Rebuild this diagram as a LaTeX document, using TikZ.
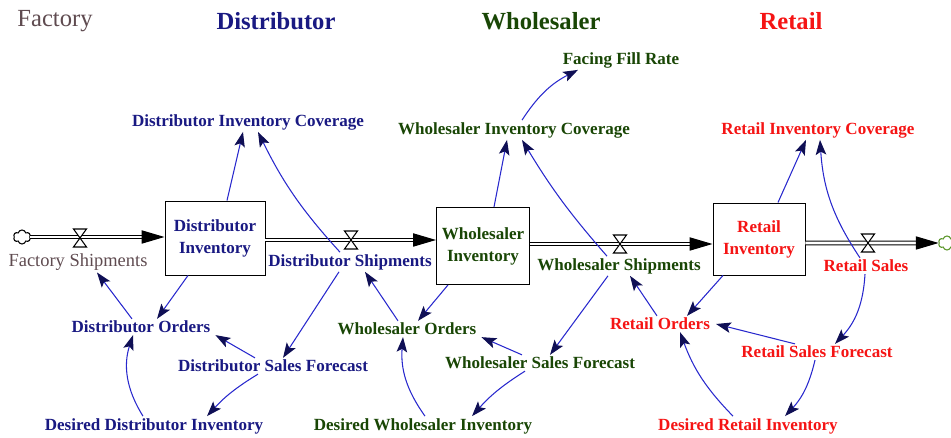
\documentclass[tikz,border=0pt]{standalone}
\usepackage{fontspec}
\setmainfont{Liberation Serif}
\usetikzlibrary{arrows.meta, shapes.symbols, calc}
\definecolor{distnavy}{RGB}{25,25,130}
\definecolor{wholgreen}{RGB}{25,70,5}
\definecolor{retred}{RGB}{245,20,20}
\definecolor{factgray}{RGB}{95,75,80}
\definecolor{linkblue}{RGB}{40,40,205}
\definecolor{headnavy}{RGB}{15,15,85}
\definecolor{sinkgreen}{RGB}{90,150,40}
\begin{document}
\begin{tikzpicture}[
  x=0.02cm, y=-0.02cm,
  font=\fontsize{9.7}{12.5}\selectfont\bfseries,
  every node/.style={inner sep=1pt},
  title/.style={font=\fontsize{14}{16}\selectfont\bfseries},
  stock/.style={draw, line width=0.55pt, fill=white, align=center, minimum width=2cm, minimum height=1.48cm},
  puff/.style={cloud, cloud puffs=6, aspect=1.2, draw, fill=white, line width=0.6pt, minimum width=0.34cm, minimum height=0.28cm, inner sep=0pt},
  pipe/.style={double=white, double distance=1.5pt, line width=0.65pt, -{Triangle[length=13pt,width=7.5pt]}},
  valve/.style={draw, fill=white, line width=0.6pt},
  link/.style={draw=linkblue, line width=0.6pt, -{Stealth[length=8.5pt,width=6pt,inset=1.8pt,color=headnavy]}}
]
\useasboundingbox (0,0) rectangle (951,438);
\node[text=factgray, font=\fontsize{14}{16}\selectfont] (factT) at (55,21) {Factory};
\node[title, text=distnavy] (distT) at (276,21) {Distributor};
\node[title, text=wholgreen] (wholT) at (541,21) {Wholesaler};
\node[title, text=retred] (retT) at (791,21) {Retail};
\node[puff] (srcL) at (22,237) {};
\node[puff, draw=sinkgreen] (sinkR) at (947,243) {};
\node[stock, text=distnavy] (dinv) at (215,238) {Distributor\\Inventory};
\node[stock, text=wholgreen, minimum width=1.86cm, minimum height=1.54cm] (winv) at (483,246) {Wholesaler\\Inventory};
\node[stock, text=retred, minimum width=1.84cm, minimum height=1.44cm] (rinv) at (759,239) {Retail\\Inventory};
\coordinate (fv) at (80,238);
\coordinate (dv) at (351,240);
\coordinate (wv) at (620,244);
\coordinate (rv) at (868,243);
\draw[pipe] (srcL.east) -- (dinv.west |- srcL.east);
\draw[pipe] (dinv.east |- dv) -- (winv.west |- dv);
\draw[pipe] (winv.east |- wv) -- (rinv.west |- wv);
\draw[pipe] (rinv.east |- rv) -- (sinkR.west);
\foreach \v in {fv,dv,wv,rv}
  \draw[valve] ($(\v)+(-6.5,-9)$) -- ($(\v)+(6.5,-9)$) -- ($(\v)+(-6.5,9)$) -- ($(\v)+(6.5,9)$) -- cycle;
\node[text=factgray, font=\fontsize{10.5}{12}\selectfont] (fship) at (78,262) {Factory Shipments};
\node[text=distnavy] (dship) at (350,262) {Distributor Shipments};
\node[text=wholgreen] (wship) at (619,266) {Wholesaler Shipments};
\node[text=retred] (rsales) at (866,266) {Retail Sales};
\node[text=distnavy] (dcov) at (248,122) {Distributor Inventory Coverage};
\node[text=wholgreen] (wcov) at (514,130) {Wholesaler Inventory Coverage};
\node[text=wholgreen] (fill) at (621,60) {Facing Fill Rate};
\node[text=retred] (rcov) at (818,130) {Retail Inventory Coverage};
\node[text=distnavy] (dord) at (141,327) {Distributor Orders};
\node[text=distnavy] (dfc) at (273,366) {Distributor Sales Forecast};
\node[text=distnavy] (ddes) at (154,426) {Desired Distributor Inventory};
\node[text=wholgreen] (word) at (407,329) {Wholesaler Orders};
\node[text=wholgreen] (wfc) at (540,363) {Wholesaler Sales Forecast};
\node[text=wholgreen] (wdes) at (423,426) {Desired Wholesaler Inventory};
\node[text=retred] (rord) at (660,324) {Retail Orders};
\node[text=retred] (rfc) at (817,352) {Retail Sales Forecast};
\node[text=retred] (rdes) at (748,426) {Desired Retail Inventory};
\draw[link] ($(dinv.north)+(12,0)$) -- ($(dcov.south)+(-5,0)$);
\draw[link] ($(dship.north)+(-10,0)$) to[bend left=8] ($(dcov.south)+(10,0)$);
\draw[link] ($(winv.north)+(11,0)$) -- ($(wcov.south)+(-7,0)$);
\draw[link] ($(wship.north)+(-12,0)$) to[bend left=5] ($(wcov.south)+(8,0)$);
\draw[link] ($(wcov.north)+(8,0)$) to[bend left=15] ($(fill.south)+(-43,0)$);
\draw[link] ($(rinv.north)+(19,0)$) -- ($(rcov.south)+(-12,0)$);
\draw[link] ($(rsales.north)+(-6,0)$) to[bend left=15] ($(rcov.south)+(2,0)$);
\draw[link] ($(dord.north)+(-9,0)$) -- ($(fship.south)+(19,0)$);
\draw[link] ($(dinv.south)+(-27,0)$) -- ($(dord.north)+(16,0)$);
\draw[link] ($(dship.south)+(-11,0)$) -- ($(dfc.north)+(10,0)$);
\draw[link] ($(dfc.north)+(-18,0)$) -- ($(dord.south east)+(3,0)$);
\draw[link] ($(dfc.south)+(-15,0)$) to[bend right=8] ($(ddes.north)+(53,0)$);
\draw[link] ($(ddes.north)+(-11,0)$) to[bend left=25] ($(dord.south)+(-8,0)$);
\draw[link] ($(word.north)+(-9,0)$) -- ($(dship.south)+(15,0)$);
\draw[link] ($(winv.south)+(-35,0)$) -- ($(word.north)+(11,0)$);
\draw[link] ($(wship.south)+(-11,0)$) -- ($(wfc.north)+(10,0)$);
\draw[link] ($(wfc.north)+(-18,0)$) -- ($(word.south east)+(3,0)$);
\draw[link] ($(wfc.south)+(-15,0)$) to[bend right=8] ($(wdes.north)+(49,0)$);
\draw[link] ($(wdes.north)+(2,0)$) to[bend left=20] ($(word.south)+(-4,0)$);
\draw[link] ($(rord.north)+(-3,0)$) -- ($(wship.south)+(11,0)$);
\draw[link] ($(rinv.south)+(-36,0)$) -- ($(rord.north)+(27,0)$);
\draw[link] ($(rsales.south)+(-1,0)$) to[bend left=20] ($(rfc.north)+(18,0)$);
\draw[link] ($(rfc.north)+(-22,0)$) -- ($(rord.east)+(4,0)$);
\draw[link] ($(rfc.south)+(-2,0)$) to[bend left=15] ($(rdes.north)+(37,0)$);
\draw[link] ($(rdes.north)+(-15,0)$) to[bend left=12] ($(rord.south)+(20,0)$);
\end{tikzpicture}
\end{document}
